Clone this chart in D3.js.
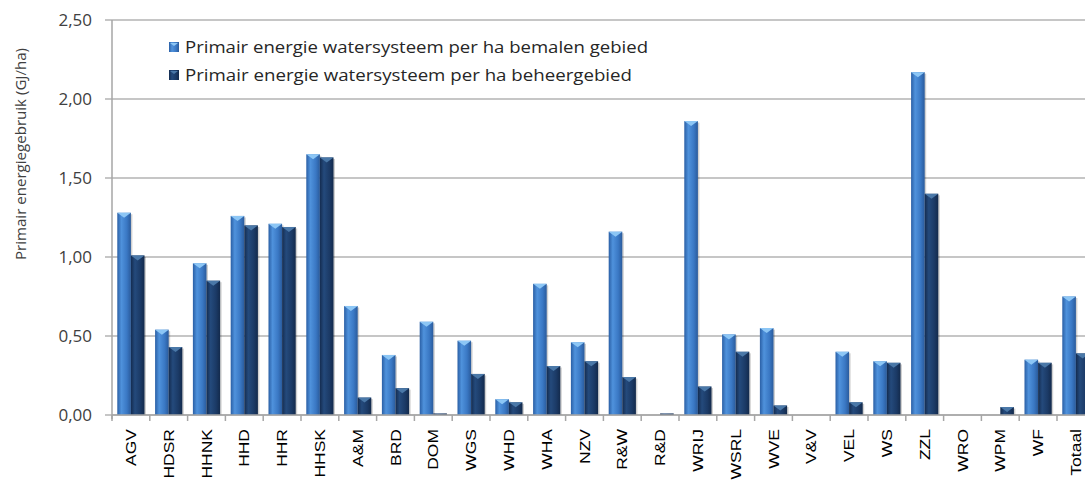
<!DOCTYPE html>
<html>
<head>
<meta charset="utf-8">
<script src="https://cdn.jsdelivr.net/npm/d3@7"></script>
<style>
  body { margin: 0; background: #fff; }
  svg { display: block; }
</style>
</head>
<body>
<div id="chart"></div>
<script>
// Data
var categories = ["AGV", "HDSR", "HHNK", "HHD", "HHR", "HHSK", "A&M", "BRD", "DOM", "WGS",
  "WHD", "WHA", "NZV", "R&W", "R&D", "WRIJ", "WSRL", "WVE", "V&V", "VEL", "WS", "ZZL",
  "WRO", "WPM", "WF", "Totaal"];
var bemalen = [1.28, 0.54, 0.96, 1.26, 1.21, 1.65, 0.69, 0.38, 0.59, 0.47,
  0.10, 0.83, 0.46, 1.16, 0, 1.86, 0.51, 0.55, 0, 0.40, 0.34, 2.17,
  0, 0, 0.35, 0.75];
var beheer = [1.01, 0.43, 0.85, 1.20, 1.19, 1.63, 0.11, 0.17, 0.01, 0.26,
  0.08, 0.31, 0.34, 0.24, 0.01, 0.18, 0.40, 0.06, 0, 0.08, 0.33, 1.40,
  0, 0.05, 0.33, 0.39];
var seriesNames = ["Primair energie watersysteem per ha bemalen gebied",
  "Primair energie watersysteem per ha beheergebied"];
var yTicks = [0, 0.5, 1, 1.5, 2, 2.5];

var svgWidth = 1085;
var svgHeight = 481;
var margin = { top: 20, right: 0, bottom: 66, left: 112 };
var step = 37.8;
var chartHeight = svgHeight - margin.top - margin.bottom;

var svg = d3.select("#chart").append("svg")
  .attr("width", svgWidth)
  .attr("height", svgHeight);

// gradients for the bevelled bars
var defs = svg.append("defs");
var colors = [
  { id: "gLight", stops: ["#2a5fa5", "#4f92dc", "#3a78c4", "#2a5b9c"], tip: "#8cc6f5" },
  { id: "gDark", stops: ["#142c50", "#244a7c", "#1b3a66", "#132a4c"], tip: "#4a78a8" }
];
colors.forEach(function(c) {
  var g = defs.append("linearGradient").attr("id", c.id)
    .attr("x1", "0").attr("x2", "1").attr("y1", "0").attr("y2", "0");
  [0, 0.3, 0.7, 1].forEach(function(o, i) {
    g.append("stop").attr("offset", o).attr("stop-color", c.stops[i]);
  });
});

var chartGroup = svg.append("g")
  .attr("transform", `translate(${margin.left}, ${margin.top})`);

var x0 = d3.scaleBand()
  .domain(categories)
  .range([0, step * categories.length])
  .paddingInner(0.28)
  .paddingOuter(0.14);

var x1 = d3.scaleBand()
  .domain([0, 1])
  .range([0, x0.bandwidth()]);

var y = d3.scaleLinear()
  .domain([0, 2.5])
  .range([chartHeight, 0]);

// gridlines
chartGroup.append("g")
  .selectAll("line")
  .data(yTicks)
  .enter()
  .append("line")
  .attr("x1", -7)
  .attr("x2", step * categories.length)
  .attr("y1", d => y(d))
  .attr("y2", d => y(d))
  .attr("stroke", "#b3b3b3")
  .attr("stroke-width", 1.5);

// y axis
var leftAxis = d3.axisLeft(y)
  .tickValues(yTicks)
  .tickSize(0)
  .tickPadding(20)
  .tickFormat(d => d3.format(".2f")(d).replace(".", ","));

var yAxisG = chartGroup.append("g").call(leftAxis);
yAxisG.select(".domain").remove();
yAxisG.selectAll("text")
  .attr("font-family", "'Open Sans', sans-serif")
  .attr("font-size", "17px")
  .attr("fill", "#404040");

chartGroup.append("line")
  .attr("x1", 0).attr("x2", 0)
  .attr("y1", 0).attr("y2", chartHeight + 4)
  .attr("stroke", "#a6a6a6")
  .attr("stroke-width", 1.5);

// y label
chartGroup.append("text")
  .attr("transform", "rotate(-90)")
  .attr("x", -(134))
  .attr("y", -86)
  .attr("text-anchor", "middle")
  .attr("font-family", "'Open Sans', sans-serif")
  .attr("font-size", "15px")
  .attr("textLength", 212)
  .attr("lengthAdjust", "spacingAndGlyphs")
  .attr("fill", "#404040")
  .text("Primair energiegebruik (GJ/ha)");

// bars
var rows = categories.map(function(c, i) {
  return { cat: c, vals: [bemalen[i], beheer[i]] };
});

var groups = chartGroup.selectAll(".cat")
  .data(rows)
  .enter()
  .append("g")
  .attr("transform", d => `translate(${x0(d.cat)},0)`);

var bars = groups.selectAll("g.bar")
  .data(d => d.vals.map(function(v, k) { return { k: k, v: v }; }))
  .enter()
  .filter(d => d.v > 0)
  .append("g");

// shadow
bars.append("rect")
  .attr("x", d => x1(d.k) + 1.5)
  .attr("y", d => y(d.v) + 1.5)
  .attr("width", x1.bandwidth())
  .attr("height", d => chartHeight - y(d.v) - 1.5)
  .attr("fill", "rgba(0,0,0,0.18)");

bars.append("rect")
  .attr("x", d => x1(d.k))
  .attr("y", d => y(d.v))
  .attr("width", x1.bandwidth())
  .attr("height", d => chartHeight - y(d.v))
  .attr("fill", d => d.k === 0 ? "url(#gLight)" : "url(#gDark)");

// bevel tip on top
bars.filter(d => chartHeight - y(d.v) > 4)
  .append("path")
  .attr("d", function(d) {
    var xa = x1(d.k), w = x1.bandwidth(), yt = y(d.v);
    return `M${xa},${yt} L${xa + w},${yt} L${xa + w / 2},${yt + 5} Z`;
  })
  .attr("fill", d => colors[d.k].tip);

// x axis
var xAxisG = chartGroup.append("g")
  .attr("transform", `translate(0, ${chartHeight})`);

xAxisG.append("line")
  .attr("x1", 0).attr("x2", step * categories.length)
  .attr("y1", 0).attr("y2", 0)
  .attr("stroke", "#a6a6a6")
  .attr("stroke-width", 1.5);

xAxisG.selectAll("line.tick")
  .data(d3.range(categories.length + 1))
  .enter()
  .append("line")
  .attr("x1", d => d * step).attr("x2", d => d * step)
  .attr("y1", 0).attr("y2", 6)
  .attr("stroke", "#a6a6a6")
  .attr("stroke-width", 1.5);

xAxisG.selectAll("text.lbl")
  .data(categories)
  .enter()
  .append("text")
  .attr("transform", d => `translate(${x0(d) + x0.bandwidth() / 2 + 5}, 14) rotate(-90) scale(1.25,1)`)
  .attr("text-anchor", "end")
  .attr("font-family", "'Liberation Sans', Arial, sans-serif")
  .attr("font-size", "14px")
  .attr("fill", "#000")
  .text(d => d);

// legend
var legendLengths = [463, 447];
var legend = svg.append("g").attr("transform", "translate(169, 42)");
seriesNames.forEach(function(name, i) {
  var row = legend.append("g").attr("transform", `translate(0, ${i * 28})`);
  row.append("rect")
    .attr("width", 10).attr("height", 10)
    .attr("fill", i === 0 ? "url(#gLight)" : "url(#gDark)");
  row.append("path")
    .attr("d", "M1,1 L9,1 L5,4 Z")
    .attr("fill", colors[i].tip);
  row.append("text")
    .attr("x", 16)
    .attr("y", 11)
    .attr("font-family", "'Open Sans', sans-serif")
    .attr("font-size", "16px")
    .attr("textLength", legendLengths[i])
    .attr("lengthAdjust", "spacingAndGlyphs")
    .attr("fill", "#262626")
    .text(name);
});
</script>
</body>
</html>
